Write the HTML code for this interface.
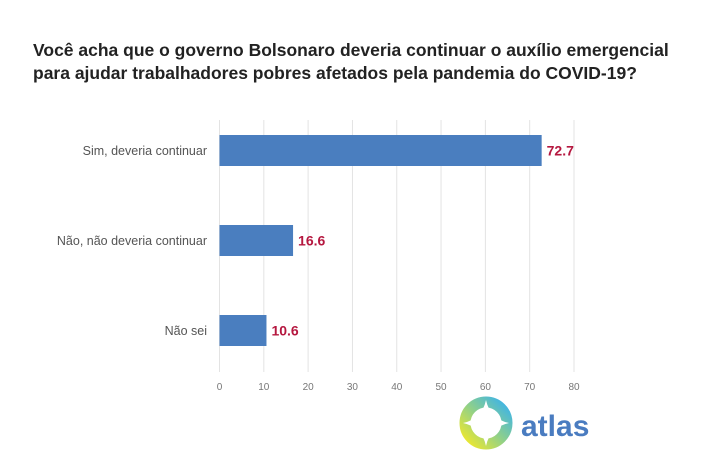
<!DOCTYPE html>
<html><head><meta charset="utf-8"><style>
body{margin:0;background:#fff;}
svg{display:block;font-family:"Liberation Sans",sans-serif;}
</style></head><body>
<svg width="720" height="471" viewBox="0 0 720 471">
<defs>
<linearGradient id="lg" x1="0" y1="1" x2="1" y2="0">
<stop offset="0" stop-color="#f2e92a"/><stop offset="0.5" stop-color="#8fd08a"/><stop offset="1" stop-color="#3bb3ea"/>
</linearGradient>
</defs>
<text x="33" y="56" font-size="17.5" font-weight="bold" fill="#222">Você acha que o governo Bolsonaro deveria continuar o auxílio emergencial</text>
<text x="33" y="79" font-size="17.5" font-weight="bold" fill="#222">para ajudar trabalhadores pobres afetados pela pandemia do COVID-19?</text>
<g id="plot"></g>
<g>
<circle cx="486" cy="423" r="21" fill="none" stroke="url(#lg)" stroke-width="11"/>
<path d="M486 400 Q490 419 509 423 Q490 427 486 446 Q482 427 463 423 Q482 419 486 400Z" fill="#fff"/>
<text x="521" y="436" font-size="30" font-weight="bold" fill="#4a7cc0">atlas</text>
</g>
</svg>
<script>
const categories=["Sim, deveria continuar","Não, não deveria continuar","Não sei"];
const values=[72.7,16.6,10.6];
const ticks=[0,10,20,30,40,50,60,70,80];
const NS="http://www.w3.org/2000/svg";
const g=document.getElementById('plot');
const x0=219.5,x1=574,xmax=80;
const xs=v=>x0+(x1-x0)*v/xmax;
const top0=120,bandH=90,barH=31;
function mk(t,a){const e=document.createElementNS(NS,t);for(const k in a)e.setAttribute(k,a[k]);g.appendChild(e);return e;}
ticks.forEach(t=>{
const l=mk('line',{x1:xs(t),x2:xs(t),y1:120,y2:372,stroke:'#e3e3e3','stroke-width':1});


const tx=mk('text',{x:xs(t),y:390,'text-anchor':'middle','font-size':10,fill:'#777'});
tx.textContent=t;


});
categories.forEach((c,i)=>{
const yc=top0+bandH*i+30.5;
const r=mk('rect',{x:xs(0),y:yc-barH/2,width:xs(values[i])-xs(0),height:barH,fill:'#4a7ebf'});


const lb=mk('text',{x:207,y:yc+4.5,'text-anchor':'end','font-size':12.5,fill:'#555'});
lb.textContent=c;


const vl=mk('text',{x:xs(values[i])+5,y:yc+5,'font-size':14,'font-weight':'bold',fill:'#b5173f'});
vl.textContent=values[i].toFixed(1);


});
</script>
</body></html>
